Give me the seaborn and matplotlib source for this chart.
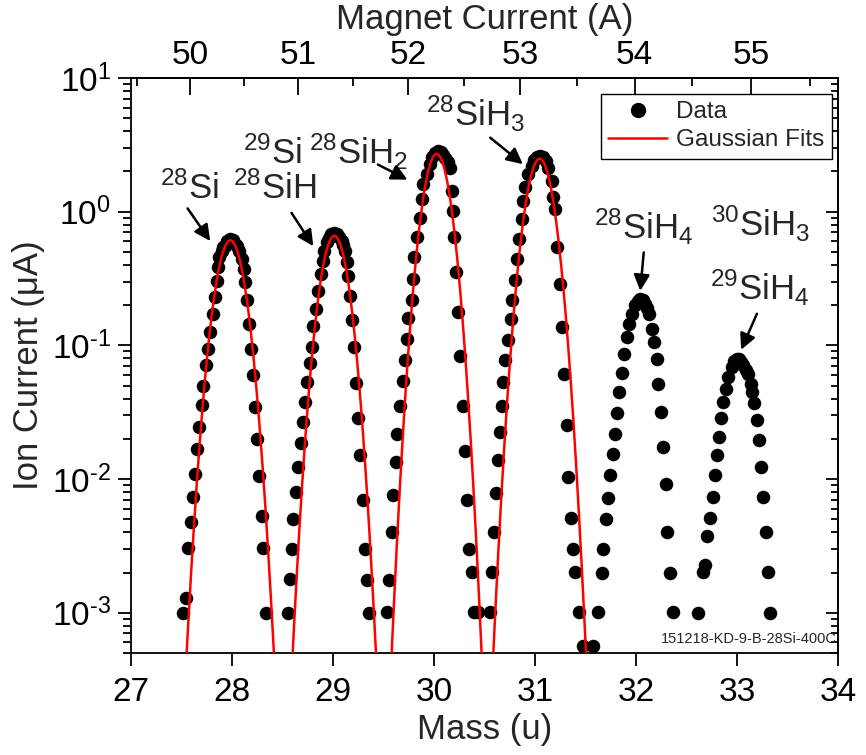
import numpy as np
import pandas as pd
import matplotlib
matplotlib.use("Agg")
import matplotlib.pyplot as plt
import seaborn as sns
from matplotlib.lines import Line2D
from matplotlib.ticker import LogLocator, FuncFormatter, NullFormatter, FixedLocator

# ---------------- data ----------------
mass_p1 = [27.518, 27.545, 27.568, 27.591, 27.611, 27.634, 27.657, 27.676, 27.700, 27.716,
           27.743, 27.766, 27.782, 27.809, 27.832, 27.848, 27.865, 27.875, 27.898, 27.915,
           27.931, 27.955, 27.980, 28.005, 28.030, 28.050, 28.072, 28.096, 28.119, 28.129,
           28.145, 28.165, 28.185, 28.211, 28.231, 28.251, 28.270, 28.294, 28.310, 28.333]
curr_p1 = [1.0e-3, 1.29e-3, 3.04e-3, 4.8e-3, 7.4e-3, 1.10e-2, 1.69e-2, 2.45e-2, 3.56e-2, 5.0e-2,
           7.1e-2, 9.4e-2, 0.126, 0.172, 0.229, 0.305, 0.384, 0.456, 0.512, 0.54,
           0.557, 0.60, 0.625, 0.61, 0.574, 0.55, 0.512, 0.444, 0.373, 0.296,
           0.217, 0.145, 0.094, 0.0597, 0.0347, 0.0201, 0.0105, 5.3e-3, 3.04e-3, 1.0e-3]

mass_p2 = [28.558, 28.574, 28.591, 28.607, 28.634, 28.657, 28.680, 28.706, 28.723, 28.746,
           28.772, 28.789, 28.805, 28.832, 28.855, 28.878, 28.898, 28.911, 28.937, 28.960,
           28.985, 29.013, 29.040, 29.062, 29.086, 29.102, 29.119, 29.135, 29.152, 29.168,
           29.185, 29.208, 29.228, 29.251, 29.267, 29.294, 29.317, 29.333, 29.360]
curr_p2 = [1.0e-3, 1.78e-3, 3.0e-3, 5.0e-3, 8.0e-3, 1.24e-2, 1.85e-2, 2.68e-2, 3.78e-2, 5.3e-2,
           7.4e-2, 9.8e-2, 0.139, 0.188, 0.257, 0.343, 0.430, 0.512, 0.590, 0.64,
           0.68, 0.69, 0.68, 0.65, 0.608, 0.56, 0.512, 0.419, 0.333, 0.236,
           0.156, 0.097, 0.0524, 0.0288, 0.0151, 6.97e-3, 3.0e-3, 1.76e-3, 1.0e-3]

mass_p3 = [29.531, 29.557, 29.581, 29.597, 29.624, 29.637, 29.663, 29.690, 29.713, 29.730,
           29.746, 29.779, 29.789, 29.802, 29.835, 29.861, 29.878, 29.894, 29.928, 29.960,
           29.985, 30.012, 30.040, 30.068, 30.090, 30.109, 30.135, 30.158, 30.175, 30.185,
           30.198, 30.218, 30.241, 30.257, 30.284, 30.307, 30.330, 30.350, 30.373, 30.396,
           30.439]
curr_p3 = [1.02e-3, 1.76e-3, 4.05e-3, 7.6e-3, 1.35e-2, 2.19e-2, 3.51e-2, 5.42e-2, 7.8e-2, 0.112,
           0.161, 0.219, 0.315, 0.456, 0.643, 0.897, 1.245, 1.61, 1.91, 2.27,
           2.55, 2.75, 2.85, 2.80, 2.65, 2.54, 2.35, 2.14, 1.44, 1.02,
           0.643, 0.352, 0.177, 0.0828, 0.0351, 0.0163, 7.0e-3, 3.0e-3, 2.03e-3, 1.02e-3,
           1.02e-3]

mass_p4 = [30.554, 30.571, 30.594, 30.614, 30.637, 30.653, 30.670, 30.686, 30.703, 30.736,
           30.759, 30.769, 30.802, 30.819, 30.845, 30.868, 30.884, 30.901, 30.934, 30.967,
           30.995, 31.022, 31.050, 31.078, 31.105, 31.132, 31.165, 31.181, 31.198, 31.221,
           31.248, 31.264, 31.287, 31.314, 31.330, 31.353, 31.380, 31.396, 31.439, 31.478,
           31.578]
curr_p4 = [1.02e-3, 2.03e-3, 4.05e-3, 7.8e-3, 1.39e-2, 2.25e-2, 3.51e-2, 5.3e-2, 7.8e-2, 0.110,
           0.157, 0.217, 0.309, 0.444, 0.625, 0.883, 1.21, 1.52, 1.91, 2.20,
           2.42, 2.58, 2.62, 2.58, 2.40, 2.14, 1.70, 1.28, 1.05, 0.542,
           0.288, 0.137, 0.0615, 0.0253, 0.0103, 5.1e-3, 3.0e-3, 2.03e-3, 1.02e-3, 5.6e-4,
           5.6e-4]

mass_p5 = [31.627, 31.660, 31.677, 31.703, 31.726, 31.743, 31.769, 31.792, 31.815, 31.835,
           31.858, 31.881, 31.908, 31.934, 31.957, 31.990, 32.015, 32.040, 32.065, 32.089,
           32.110, 32.132, 32.155, 32.178, 32.205, 32.221, 32.244, 32.270, 32.297, 32.310,
           32.337, 32.363]
curr_p5 = [1.02e-3, 2.0e-3, 3.0e-3, 5.0e-3, 7.2e-3, 1.07e-2, 1.54e-2, 2.17e-2, 3.13e-2, 4.49e-2,
           6.2e-2, 8.6e-2, 0.115, 0.144, 0.172, 0.199, 0.215, 0.223, 0.218, 0.205,
           0.19, 0.172, 0.133, 0.106, 0.0796, 0.0512, 0.0318, 0.0174, 9.2e-3, 4.05e-3,
           2.0e-3, 1.02e-3]

mass_p6 = [32.617, 32.660, 32.683, 32.706, 32.733, 32.759, 32.782, 32.799, 32.825, 32.838,
           32.858, 32.891, 32.914, 32.947, 32.972, 32.997, 33.022, 33.043, 33.063, 33.088,
           33.112, 33.136, 33.146, 33.168, 33.195, 33.221, 33.235, 33.261, 33.287, 33.310,
           33.327]
curr_p6 = [1.0e-3, 2.03e-3, 2.28e-3, 3.76e-3, 5.1e-3, 7.4e-3, 1.07e-2, 1.51e-2, 2.07e-2, 2.84e-2,
           3.78e-2, 4.75e-2, 5.8e-2, 6.9e-2, 0.076, 0.0796, 0.079, 0.075, 0.071, 0.066,
           0.0615, 0.0518, 4.49e-2, 3.71e-2, 2.75e-2, 1.95e-2, 1.24e-2, 7.4e-3, 4.05e-3, 2.03e-3,
           1.0e-3]

# Gaussian fit parameters for the first four peaks
fit_center = [27.983, 29.013, 30.026, 31.046]
fit_amp = [0.61, 0.66, 2.71, 2.49]
fit_sigma = [0.1146, 0.1088, 0.1074, 0.1112]

# axis ticks
mass_ticks = [27, 28, 29, 30, 31, 32, 33, 34]
current_ticks = [50, 51, 52, 53, 54, 55]
current_minor = [49.5, 50.5, 51.5, 52.5, 53.5, 54.5, 55.5]
calib_k = 0.01058
calib_c = 1.134

# ---------------- style ----------------
sns.set_style("ticks")
plt.rcParams.update({
    "font.family": ["Liberation Sans", "DejaVu Sans"],
    "mathtext.fontset": "custom",
    "mathtext.rm": "Liberation Sans",
    "mathtext.it": "Liberation Sans:italic",
    "mathtext.bf": "Liberation Sans:bold",
    "mathtext.default": "regular",
    "axes.unicode_minus": False,
    "axes.edgecolor": "black",
    "xtick.color": "black",
    "ytick.color": "black",
})

frames = []
for m, c in [(mass_p1, curr_p1), (mass_p2, curr_p2), (mass_p3, curr_p3),
             (mass_p4, curr_p4), (mass_p5, curr_p5), (mass_p6, curr_p6)]:
    frames.append(pd.DataFrame({"mass": m, "current": c}))
df = pd.concat(frames, ignore_index=True)

fig = plt.figure(figsize=(8.66, 7.55), dpi=100)
ax = fig.add_axes([131 / 866, 1 - 653 / 755, 707 / 866, 575 / 755])
ax.set_yscale("log")

sns.scatterplot(data=df, x="mass", y="current", color="black", s=95,
                linewidth=0, ax=ax, zorder=3, legend=False)

for cen, amp, sig in zip(fit_center, fit_amp, fit_sigma):
    xs = np.linspace(cen - 0.6, cen + 0.6, 500)
    ys = amp * np.exp(-(xs - cen) ** 2 / (2 * sig ** 2))
    sns.lineplot(x=xs, y=ys, color="red", lw=1.8, ax=ax, zorder=4,
                 estimator=None, sort=False)

ax.set_xlim(27, 34)
ax.set_ylim(5e-4, 10)
ax.set_xticks(mass_ticks)
ax.xaxis.set_minor_locator(FixedLocator([]))
ax.yaxis.set_major_locator(LogLocator(base=10))
ax.yaxis.set_minor_locator(LogLocator(base=10, subs=np.arange(2, 10)))


def pow10_label(v, pos):
    e = int(round(np.log10(v)))
    return r"$10^{\text{%d}}$" % e


ax.yaxis.set_major_formatter(FuncFormatter(pow10_label))
ax.yaxis.set_minor_formatter(NullFormatter())

for sp in ax.spines.values():
    sp.set_visible(True)
    sp.set_linewidth(1.3)

TICK_FS = 24
ax.tick_params(axis="x", which="major", direction="out", length=9, width=1.3,
               labelsize=TICK_FS, pad=8, top=False)
ax.tick_params(axis="y", which="major", direction="out", length=9.5, width=1.3,
               labelsize=TICK_FS, pad=5, right=False)
ax.tick_params(axis="y", which="minor", direction="out", length=5.5, width=1.3, right=False)

ax.set_xlabel("Mass (u)", fontsize=25, labelpad=4)
ax.set_ylabel("Ion Current (\u03bcA)", fontsize=25, labelpad=5)

# right-hand mirrored ticks
sec_y = ax.secondary_yaxis("right", functions=(lambda v: v, lambda v: v))
sec_y.yaxis.set_major_locator(LogLocator(base=10))
sec_y.yaxis.set_minor_locator(LogLocator(base=10, subs=np.arange(2, 10)))
sec_y.yaxis.set_major_formatter(NullFormatter())
sec_y.yaxis.set_minor_formatter(NullFormatter())
sec_y.tick_params(which="major", direction="in", length=9, width=1.3)
sec_y.tick_params(which="minor", direction="in", length=5, width=1.3)
sec_y.spines["right"].set_linewidth(1.3)


def mass_to_current(m):
    m = np.asarray(m, dtype=float)
    return np.sqrt(np.clip((m - calib_c) / calib_k, 1e-9, None))


def current_to_mass(i):
    i = np.asarray(i, dtype=float)
    return calib_k * i ** 2 + calib_c


sec_x = ax.secondary_xaxis("top", functions=(mass_to_current, current_to_mass))
sec_x.set_xticks(current_ticks)
sec_x.xaxis.set_minor_locator(FixedLocator(current_minor))
sec_x.tick_params(which="major", direction="in", length=12, width=1.3,
                  labelsize=TICK_FS, pad=5)
sec_x.tick_params(which="minor", direction="in", length=6, width=1.3)
sec_x.spines["top"].set_linewidth(1.3)
sec_x.set_xlabel("Magnet Current (A)", fontsize=25, labelpad=8)

# legend
handles = [Line2D([], [], marker="o", color="black", ls="none", markersize=10),
           Line2D([], [], color="red", lw=1.8)]
leg = ax.legend(handles, ["Data", "Gaussian Fits"], loc="upper right",
                bbox_to_anchor=(0.9915, 0.972), frameon=True, fancybox=False,
                edgecolor="black", fontsize=17.5, handlelength=2.4, borderpad=0.3,
                labelspacing=0.25, handletextpad=0.4, borderaxespad=0)
leg.get_frame().set_linewidth(1.0)
leg.get_frame().set_alpha(1)

# peak annotations
label_fs = 25
arrow_kw = dict(arrowstyle="-|>", color="black", lw=1.8, mutation_scale=24)
ax.text(27.574, 1.25, r"$^{28}$Si", fontsize=label_fs, ha="center", va="baseline")
ax.annotate("", xy=(27.80, 0.58), xytext=(27.545, 1.10), arrowprops=arrow_kw)

ax.text(28.396, 2.28, r"$^{29}$Si", fontsize=label_fs, ha="center", va="baseline")
ax.text(28.426, 1.25, r"$^{28}$SiH", fontsize=label_fs, ha="center", va="baseline")
ax.annotate("", xy=(28.82, 0.53), xytext=(28.574, 1.02), arrowprops=arrow_kw)

ax.text(29.248, 2.28, r"$^{28}$SiH$_2$", fontsize=label_fs, ha="center", va="baseline")
ax.annotate("", xy=(29.762, 1.70), xytext=(29.42, 2.30), arrowprops=arrow_kw)

ax.text(30.416, 4.39, r"$^{28}$SiH$_3$", fontsize=label_fs, ha="center", va="baseline")
ax.annotate("", xy=(30.901, 2.20), xytext=(30.535, 3.69), arrowprops=arrow_kw)

ax.text(32.079, 0.62, r"$^{28}$SiH$_4$", fontsize=label_fs, ha="center", va="baseline")
ax.annotate("", xy=(32.040, 0.244), xytext=(32.079, 0.52), arrowprops=arrow_kw)

ax.text(33.228, 0.662, r"$^{30}$SiH$_3$", fontsize=label_fs, ha="center", va="baseline")
ax.text(33.228, 0.217, r"$^{29}$SiH$_4$", fontsize=label_fs, ha="center", va="baseline")
ax.annotate("", xy=(33.030, 0.0887), xytext=(33.208, 0.180), arrowprops=arrow_kw)

ax.text(0.998, 0.012, "151218-KD-9-B-28Si-400C", transform=ax.transAxes,
        ha="right", va="bottom", fontsize=10.5)

fig.savefig("out.png", dpi=100)
